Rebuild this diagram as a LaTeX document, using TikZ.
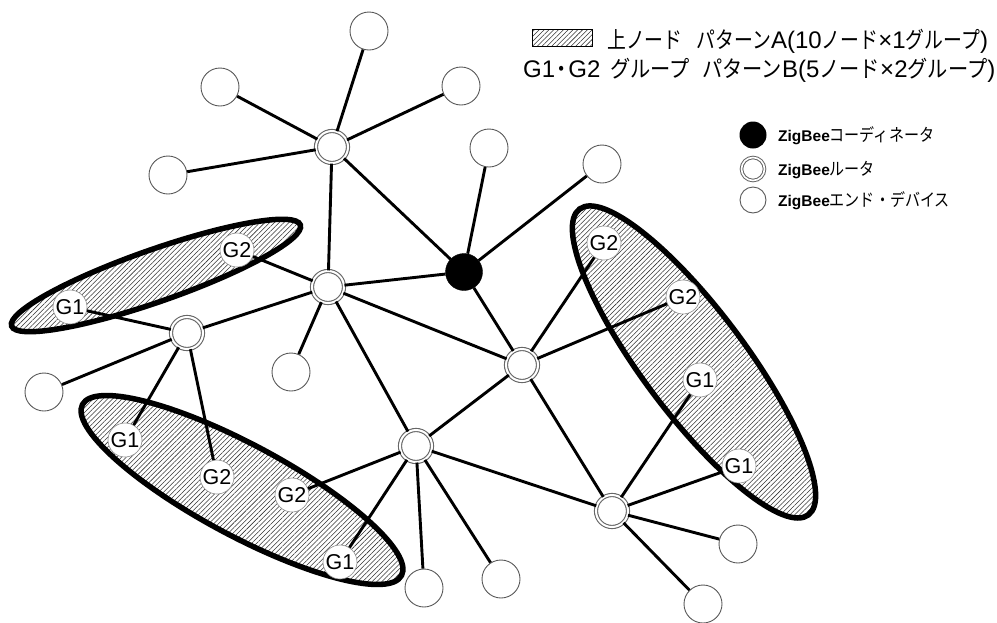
\documentclass[tikz,border=0pt]{standalone}
\usepackage{fontspec}
\setmainfont{Liberation Sans}
\newfontfamily\jpbig[FakeStretch=0.82]{Noto Sans CJK JP}
\newfontfamily\jpbigb[FakeStretch=0.88]{Noto Sans CJK JP}
\newfontfamily\jpsm[FakeStretch=0.86]{Noto Sans CJK JP}
\usetikzlibrary{patterns.meta}
\newcommand\jb[1]{{\fontsize{23}{23}\selectfont\jpbig #1}}
\newcommand\jbb[1]{{\fontsize{23}{23}\selectfont\jpbigb #1}}
\newcommand\js[1]{{\fontsize{17.5}{17.5}\selectfont\jpsm #1}}
\newcommand\zb{{\fontsize{15.5}{15.5}\selectfont\bfseries ZigBee}}
\begin{document}
\begin{tikzpicture}[x=1pt,y=-1pt,
  edge/.style={line width=2.9pt, black},
  enddev/.style={circle, draw=black!65, line width=0.9pt, fill=white, minimum size=38pt, inner sep=0pt},
  router/.style={circle, draw=black!60, line width=1.1pt, double=white, double distance=2pt, fill=white, minimum size=32pt, inner sep=0pt},
  coord/.style={circle, fill=black, draw=black, minimum size=37pt, inner sep=0pt},
  gnode/.style={circle, draw=black!45, line width=0.6pt, fill=white, minimum size=34pt, inner sep=0pt, font=\fontsize{21.5}{21.5}\selectfont},
  group/.style={line width=5.5pt, black, pattern={Lines[angle=45,distance=3.4pt,line width=0.55pt]}, pattern color=black!80},
  lgend/.style={circle, draw=black!65, line width=0.9pt, fill=white, minimum size=26pt, inner sep=0pt},
  lgrouter/.style={circle, draw=black!60, line width=1pt, double=white, double distance=1.6pt, fill=white, minimum size=23pt, inner sep=0pt},
  lgcoord/.style={circle, fill=black, minimum size=27pt, inner sep=0pt},
  lgtext/.style={anchor=base west, inner sep=0pt}
]
\useasboundingbox (0,0) rectangle (997,622);

% group ellipses
\coordinate (ulc) at (156,275.5);
\coordinate (llc) at (242,490);
\coordinate (rc) at (694,362);
\draw[group, rotate around={19.3:(ulc)}] (ulc) ellipse [x radius=153pt, y radius=26pt];
\draw[group, rotate around={-28.2:(llc)}] (llc) ellipse [x radius=181pt, y radius=45.5pt];
\draw[group, rotate around={-53.2:(rc)}] (rc) ellipse [x radius=191pt, y radius=51.5pt];

% routers and coordinator
\node[router] (R1) at (332,147) {};
\node[router] (R2) at (328,287) {};
\node[coord]  (C)  at (464,272) {};
\node[router] (R3) at (187,333) {};
\node[router] (R4) at (416,446) {};
\node[router] (R5) at (522,365) {};
\node[router] (R6) at (612,511) {};

% end devices
\node[enddev] (E1) at (369,31) {};
\node[enddev] (E2) at (220,87) {};
\node[enddev] (E3) at (461,86) {};
\node[enddev] (E4) at (168,175) {};
\node[enddev] (E5) at (489,148) {};
\node[enddev] (E6) at (602,164) {};
\node[enddev] (E7) at (44,392) {};
\node[enddev] (E8) at (291,372) {};
\node[enddev] (E9) at (424,588) {};
\node[enddev] (E10) at (501,579) {};
\node[enddev] (E11) at (738,544) {};
\node[enddev] (E12) at (703,604) {};

% group nodes
\node[gnode] (U1) at (70,307) {G1};
\node[gnode] (U2) at (237,250) {G2};
\node[gnode] (L1a) at (125,440) {G1};
\node[gnode] (L2a) at (217,477) {G2};
\node[gnode] (L2b) at (292,495) {G2};
\node[gnode] (L1b) at (340,562) {G1};
\node[gnode] (Q2a) at (604,243) {G2};
\node[gnode] (Q2b) at (683,297) {G2};
\node[gnode] (Q1a) at (700,380) {G1};
\node[gnode] (Q1b) at (739,466) {G1};

% connectors
\foreach \a/\b in {R1/E1,R1/E2,R1/E3,R1/E4,R1/R2,R1/C,
  R2/C,R2/U2,R2/R3,R2/E8,R2/R4,R2/R5,
  C/E5,C/E6,C/R5,
  R3/U1,R3/E7,R3/L1a,R3/L2a,
  R4/R5,R4/R6,R4/L2b,R4/L1b,R4/E9,R4/E10,
  R5/Q2a,R5/Q2b,R5/R6,
  R6/Q1a,R6/Q1b,R6/E11,R6/E12}
  \draw[edge] (\a) -- (\b);

% title legend
\node[draw=black, line width=0.8pt, minimum width=60pt, minimum height=17pt, inner sep=0pt,
  pattern={Lines[angle=45,distance=3.4pt,line width=0.55pt]}, pattern color=black!80] (hrect) at (562,37.5) {};
\node[lgtext, font=\fontsize{24}{24}\selectfont] (title1) at (607,48.5)
  {\jb{上ノード}\hspace{14pt}\jb{パターン}A(10\jb{ノード}×1\jb{グループ})};
\node[lgtext, font=\fontsize{24}{24}\selectfont] (title2) at (523,77)
  {G1\hspace{-3.5pt}\jbb{・}\hspace{-3.5pt}G2\hspace{10pt}\jbb{グループ}\hspace{12pt}\jbb{パターン}B(5\jbb{ノード}×2\jbb{グループ})};

% symbol legend
\node[lgcoord] (lc) at (753,135) {};
\node[lgtext] (lct) at (778,141) {\zb\js{コーディネータ}};
\node[lgrouter] (lr) at (753,169) {};
\node[lgtext] (lrt) at (778,175) {\zb\js{ルータ}};
\node[lgend] (le) at (753,200) {};
\node[lgtext] (let) at (778,206.5) {\zb\js{エンド・デバイス}};
\end{tikzpicture}
\end{document}
